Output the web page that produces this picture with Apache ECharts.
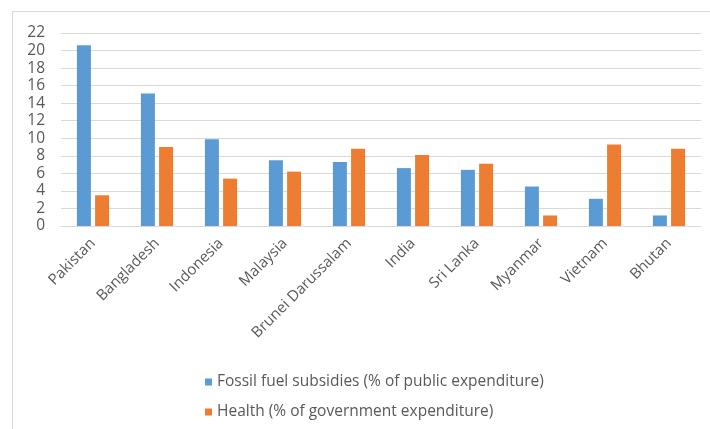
<!DOCTYPE html>
<html><head><meta charset="utf-8">
<script src="https://cdn.jsdelivr.net/npm/echarts@6/dist/echarts.min.js"></script>
<style>html,body{margin:0;padding:0;background:#fff}#c{width:710px;height:429px}</style>
</head><body><div id="c"></div>
<script>
const categories = ["Pakistan","Bangladesh","Indonesia","Malaysia","Brunei Darussalam","India","Sri Lanka","Myanmar","Vietnam","Bhutan"];
const fossilName = "Fossil fuel subsidies (% of public expenditure)";
const healthName = "Health (% of government expenditure)";
const fossil = [20.6, 15.1, 9.9, 7.5, 7.3, 6.6, 6.4, 4.5, 3.1, 1.2];
const health = [3.5, 9.0, 5.4, 6.2, 8.8, 8.1, 7.1, 1.2, 9.3, 8.8];
const yTicks = [0, 22, 2];

const chart = echarts.init(document.getElementById('c'), null, {renderer: 'canvas'});
chart.setOption({
  animation: false,
  backgroundColor: '#fff',
  textStyle: {fontFamily: 'Open Sans, Liberation Sans, sans-serif'},
  graphic: [{type: 'rect', shape: {x: 12.5, y: 11.5, width: 720, height: 440}, style: {fill: 'none', stroke: '#d9d9d9', lineWidth: 1}, silent: true}],
  grid: {left: 61, right: 9, top: 33, bottom: 203},
  legend: {
    orient: 'vertical', left: 200, top: 369, itemGap: 14,
    itemWidth: 7, itemHeight: 7, icon: 'rect',
    textStyle: {color: '#595959', fontSize: 15.5, fontFamily: 'Open Sans, sans-serif'},
    data: [fossilName, healthName]
  },
  xAxis: {
    type: 'category', data: categories,
    axisLine: {lineStyle: {color: '#d9d9d9'}},
    axisTick: {show: false},
    axisLabel: {rotate: 45, color: '#595959', fontSize: 15, margin: 15, interval: 0, fontFamily: 'Open Sans, sans-serif'}
  },
  yAxis: {
    type: 'value', min: yTicks[0], max: yTicks[1], interval: yTicks[2],
    axisLine: {show: false}, axisTick: {show: false},
    splitLine: {lineStyle: {color: '#d9d9d9'}},
    axisLabel: {color: '#595959', fontSize: 15.5, margin: 16, fontFamily: 'Open Sans, sans-serif'}
  },
  series: [
    {name: fossilName, type: 'bar', data: fossil, barWidth: 14, barGap: '30%', itemStyle: {color: '#5B9BD5'}},
    {name: healthName, type: 'bar', data: health, barWidth: 14, itemStyle: {color: '#ED7D31'}}
  ]
});
</script></body></html>
